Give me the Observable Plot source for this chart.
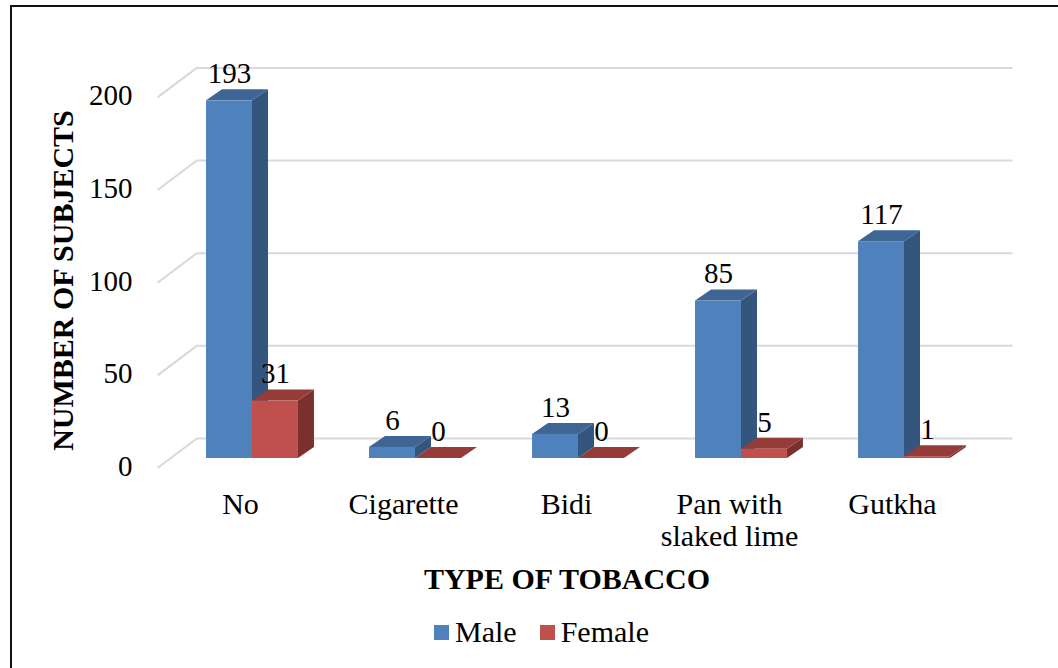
<!DOCTYPE html>
<html>
<head>
<meta charset="utf-8">
<script src="https://cdn.jsdelivr.net/npm/d3@7"></script>
<script src="https://cdn.jsdelivr.net/npm/@observablehq/plot@0.6"></script>
<style>
  html, body { margin: 0; padding: 0; background: #fff; overflow: hidden; }
  body { width: 1058px; height: 668px; position: relative; font-family: "Liberation Serif", "Times New Roman", serif; color: #000; }
  #frame { position: absolute; left: 10px; top: 5px; width: 1100px; height: 720px; border-left: 2px solid #111; border-top: 2px solid #111; }
  #chart { position: absolute; left: 0; top: 0; width: 1058px; }
  #chart svg { display: block; }
  #xtitle { height: 38px; line-height: 38px; font-size: 30px; font-weight: bold; text-align: center; padding-left: 76px; box-sizing: border-box; width: 1058px; }
  #legend { padding-top: 17px; padding-left: 434px; }
  #legend .tl-swatches { font-family: "Liberation Serif", "Times New Roman", serif; font-size: 30px; color: #000; margin: 0; }
  #legend .tl-swatch { margin-right: 23px; }
  #legend .tl-swatch > svg { margin-right: 6px; }
</style>
</head>
<body>
<div id="frame"></div>
<div id="chart"></div>
<script>
// Number of subjects by type of tobacco used, split by sex
const categories = ["No", "Cigarette", "Bidi", "Pan with slaked lime", "Gutkha"];
const male = [193, 6, 13, 85, 117];
const female = [31, 0, 0, 5, 1];
const yTicks = [0, 50, 100, 150, 200];
const series = ["Male", "Female"];

const palette = {
  Male:   {front: "#4F81BD", top: "#3E6594", side: "#34557E"},
  Female: {front: "#C0504D", top: "#943C3A", side: "#7B302E"}
};

const FONT = "'Liberation Serif', 'Times New Roman', serif";

// 3D layout (pixels): bar depth, back wall and front edge relative to the bar plane
const DEPTH = [16, 11];
const WALL = [27, -20];
const FRONT = [-13, 10];
const BAR = 0.282; // column width, in category units

const rows = categories.flatMap((cat, i) => [
  {cat, i, sex: "Male", value: male[i]},
  {cat, i, sex: "Female", value: female[i]}
]);
const left = (d) => d.sex === "Male" ? d.i - BAR : d.i;
const right = (d) => d.sex === "Male" ? d.i : d.i + BAR;

// Columns drawn as prisms: side, top and front faces from the scaled rect corners
function prism(data, colors) {
  return Plot.rect(data, {
    x1: left, x2: right, y1: 0, y2: "value",
    render(index, scales, values) {
      const {x1: L, x2: R, y1: B, y2: T} = values;
      const [dx, dy] = DEPTH;
      const g = d3.create("svg:g");
      for (const i of index) {
        const l = L[i], r = R[i], b = B[i], t = T[i];
        const h = b - t;
        if (h > 0.01) {
          g.append("path").attr("fill", colors.side)
            .attr("d", `M${r},${t}L${r + dx},${t - dy}L${r + dx},${b - dy}L${r},${b}Z`);
        }
        g.append("path").attr("fill", colors.top)
          .attr("d", `M${l},${t}L${r},${t}L${r + dx},${t - dy}L${l + dx},${t - dy}Z`);
        if (h > 0.01) {
          g.append("rect").attr("fill", colors.front)
            .attr("x", l).attr("y", t).attr("width", r - l).attr("height", h);
        }
      }
      return g.node();
    }
  });
}

const chart = Plot.plot({
  width: 1058,
  height: 560,
  margin: 0,
  style: {fontFamily: FONT, fontSize: "29px", color: "#000", background: "transparent", overflow: "visible"},
  x: {type: "linear", domain: [-0.5, 4.5], range: [170.5, 985.5], axis: null},
  y: {domain: [0, 200], range: [458, 87.4], axis: null},
  marks: [
    // back wall gridlines
    Plot.ruleY(yTicks, {y: (d) => d, x1: -0.5, x2: 4.5, dx: WALL[0], dy: WALL[1], stroke: "#d9d9d9", strokeWidth: 2}),
    // side wall: lines from the back wall to the front edge
    Plot.ruleY(yTicks, {
      y: (d) => d, x1: -0.5, x2: -0.5,
      render(index, scales, values) {
        const g = d3.create("svg:g").attr("stroke", "#d9d9d9").attr("stroke-width", 2);
        for (const i of index) {
          const x = values.x1[i], y = values.y[i];
          g.append("line")
            .attr("x1", x + WALL[0]).attr("y1", y + WALL[1])
            .attr("x2", x + FRONT[0]).attr("y2", y + FRONT[1]);
        }
        return g.node();
      }
    }),
    prism(rows.filter((d) => d.sex === "Male"), palette.Male),
    prism(rows.filter((d) => d.sex === "Female"), palette.Female),
    // value labels
    Plot.text(rows, {
      x: (d) => (left(d) + right(d)) / 2, y: "value", text: (d) => String(d.value),
      dy: -27, fontSize: 29, fontFamily: FONT, fill: "#000"
    }),
    // y tick labels
    Plot.text(yTicks, {
      x: -0.5, y: (d) => d, text: (d) => String(d),
      textAnchor: "end", dx: -38.5, dy: 8.3, fontSize: 29, fontFamily: FONT, fill: "#000"
    }),
    // category labels
    Plot.text(categories, {
      x: (d, i) => i, y: 0, text: (d) => d,
      lineAnchor: "top", lineWidth: 6, lineHeight: 1.06,
      dx: -12, dy: 32.7, fontSize: 30, fontFamily: FONT, fill: "#000"
    }),
    // y axis title
    Plot.text(["NUMBER OF SUBJECTS"], {
      frameAnchor: "left", dx: 63, rotate: -90, textAnchor: "middle",
      fontSize: 30, fontWeight: "bold", fontFamily: FONT, fill: "#000"
    })
  ]
});

const root = document.getElementById("chart");
root.appendChild(chart);

const xtitle = document.createElement("div");
xtitle.id = "xtitle";
xtitle.textContent = "TYPE OF TOBACCO";
root.appendChild(xtitle);

const legendWrap = document.createElement("div");
legendWrap.id = "legend";
legendWrap.appendChild(Plot.legend({
  legend: "swatches",
  className: "tl",
  swatchSize: 15,
  color: {domain: series, range: series.map((s) => palette[s].front)}
}));
root.appendChild(legendWrap);
</script>
</body>
</html>
